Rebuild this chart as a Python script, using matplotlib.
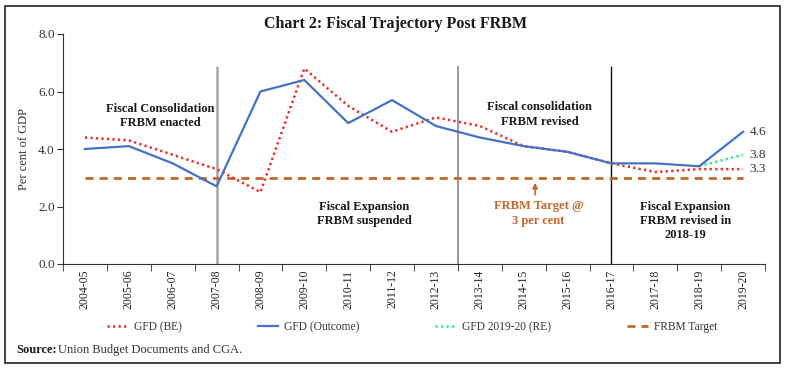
import matplotlib
matplotlib.use("Agg")
import matplotlib.pyplot as plt
import matplotlib.patches as mpatches
import numpy as np

YEARS = ["2004-05", "2005-06", "2006-07", "2007-08", "2008-09", "2009-10",
         "2010-11", "2011-12", "2012-13", "2013-14", "2014-15", "2015-16",
         "2016-17", "2017-18", "2018-19", "2019-20"]
GFD_BE      = [4.4, 4.3, 3.8, 3.3, 2.5, 6.8, 5.5, 4.6, 5.1, 4.8, 4.1, 3.9, 3.5, 3.2, 3.3, 3.3]
GFD_OUTCOME = [4.0, 4.1, 3.5, 2.7, 6.0, 6.4, 4.9, 5.7, 4.8, 4.4, 4.1, 3.9, 3.5, 3.5, 3.4, 4.6]
RE_YEARS    = ["2018-19", "2019-20"]
GFD_RE      = [3.4, 3.8]
FRBM_TARGET = [3.0] * len(YEARS)

FONT = "Liberation Serif"
plt.rcParams["font.family"] = FONT

C_BE = "#ee2b2b"
C_OUT = "#4472c4"
C_RE = "#2ee88a"
C_TGT = "#c5662a"

fig = plt.figure(figsize=(7.86, 3.72), dpi=100)
ax = fig.add_axes([63 / 786, 1 - 264 / 372, (765 - 63) / 786, (264 - 34) / 372])

x = np.arange(len(YEARS))
x_re = [YEARS.index(y) for y in RE_YEARS]

# regime separators
ax.vlines(3, 0, 6.9, color="#a6a6a6", lw=1.8, zorder=1)
ax.vlines(8.5, 0, 6.9, color="#7f7f7f", lw=1.1, zorder=1)
ax.vlines(12, 0, 6.9, color="#111111", lw=1.0, zorder=1)

ax.plot(x, FRBM_TARGET, color=C_TGT, lw=2, ls=(0, (2.9, 2.2)), label="FRBM Target", zorder=2)
ax.plot(x_re, GFD_RE, color=C_RE, lw=1.8, ls=(0, (0.9, 1.3)), label="GFD 2019-20 (RE)", zorder=3)
ax.plot(x, GFD_BE, color=C_BE, lw=1.8, ls=(0, (0.9, 1.3)), label="GFD (BE)", zorder=3)
ax.plot(x, GFD_OUTCOME, color=C_OUT, lw=1.6, label="GFD (Outcome)", zorder=4)

# end labels
for v in [GFD_OUTCOME[-1], GFD_RE[-1], GFD_BE[-1]]:
    ax.text(15.15, v, f"{v:.1f}", fontsize=9.5, color="#333333", ha="left", va="center")

bold = dict(fontsize=9, fontweight="bold", color="#1a1a1a", ha="center", va="center",
            linespacing=1.25)
ax.text(1.71, 5.15, "Fiscal Consolidation\nFRBM enacted", **bold)
ax.text(6.36, 1.74, "Fiscal Expansion\nFRBM suspended", **bold)
ax.text(10.37, 5.2, "Fiscal consolidation\nFRBM revised", **bold)
ax.text(13.69, 1.5, "Fiscal Expansion\nFRBM revised in\n2018-19", **bold)
ax.text(10.34, 1.76, "FRBM Target @\n3 per cent", fontsize=9, fontweight="bold",
        color=C_TGT, ha="center", va="center", linespacing=1.25)
ax.annotate("", xy=(10.26, 2.92), xytext=(10.26, 2.3),
            arrowprops=dict(arrowstyle="-|>", color=C_TGT, lw=1.1, mutation_scale=8))

ax.set_xlim(-0.5, 15.5)
ax.set_ylim(0, 8)
ax.set_yticks(np.arange(0, 8.1, 2))
ax.set_yticklabels([f"{v:.1f}" for v in np.arange(0, 8.1, 2)], fontsize=9.5, color="#333333")
ax.set_xticks(x)
ax.set_xticklabels(YEARS, rotation=90, fontsize=8.5, color="#222222")
ax.set_xticks(np.arange(-0.5, 15.6, 1), minor=True)
ax.tick_params(axis="x", which="major", length=0, pad=4)
ax.tick_params(axis="x", which="minor", length=5, color="#333333")
ax.tick_params(axis="y", length=4, color="#333333", pad=2)
ax.set_ylabel("Per cent of GDP", fontsize=9, color="#333333", labelpad=6)
for s in ["top", "right"]:
    ax.spines[s].set_visible(False)
for s in ["left", "bottom"]:
    ax.spines[s].set_color("#333333")

fig.text(396 / 786, 1 - 24 / 372, "Chart 2: Fiscal Trajectory Post FRBM", fontsize=11.5,
         fontweight="bold", ha="center", va="center", color="#1a1a1a")

handles, labels = ax.get_legend_handles_labels()
order = ["GFD (BE)", "GFD (Outcome)", "GFD 2019-20 (RE)", "FRBM Target"]
hmap = dict(zip(labels, handles))
fig.legend([hmap[k] for k in order], order, ncol=4, loc="center",
           bbox_to_anchor=(412 / 786, 1 - 327 / 372), frameon=False, fontsize=8.3,
           handlelength=1.8, columnspacing=6.6, handletextpad=0.5,
           labelcolor="#333333")

fig.text(16 / 786, 1 - 350 / 372, "Source:", fontsize=9, fontweight="bold",
         ha="left", va="center", color="#1a1a1a")
fig.text(58 / 786, 1 - 350 / 372, "Union Budget Documents and CGA.", fontsize=9,
         ha="left", va="center", color="#333333")

fig.patches.append(mpatches.Rectangle((5 / 786, 1 - 363 / 372), 775 / 786, 357 / 372,
                                      transform=fig.transFigure, fill=False,
                                      edgecolor="#222222", lw=1.2))

fig.savefig("out.png", dpi=100)
